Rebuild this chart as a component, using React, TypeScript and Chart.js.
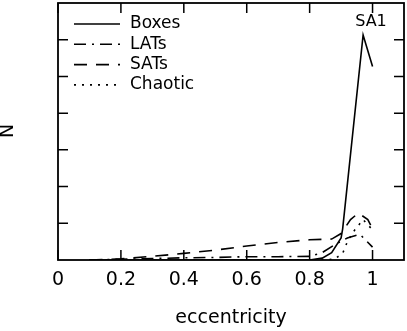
import React, { useEffect, useRef } from "react";
import { Chart, registerables } from "chart.js";

Chart.register(...registerables);

// ---- data ----
const boxesE = [0.1, 0.2, 0.3, 0.4, 0.5, 0.6, 0.7, 0.8, 0.84, 0.87, 0.9, 0.905, 0.97, 1.0];
const boxesN = [0, 0, 0, 0, 0, 0, 0, 0, 0.05, 0.2, 0.6, 0.85, 6.13, 5.27];

const latsE = [0.1, 0.2, 0.3, 0.4, 0.5, 0.6, 0.7, 0.8, 0.84, 0.88, 0.92, 0.96, 1.0];
const latsN = [0, 0.02, 0.04, 0.06, 0.07, 0.09, 0.09, 0.1, 0.2, 0.42, 0.6, 0.7, 0.35];

const satsE = [0.1, 0.2, 0.3, 0.4, 0.5, 0.6, 0.7, 0.8, 0.87, 0.9, 0.93, 0.955, 0.985, 1.0];
const satsN = [0, 0.03, 0.1, 0.18, 0.27, 0.38, 0.48, 0.55, 0.57, 0.72, 1.1, 1.28, 1.1, 0.85];

const chaoticE = [0.1, 0.3, 0.5, 0.7, 0.85, 0.88, 0.905, 0.92, 0.94, 0.97, 1.0];
const chaoticN = [0, 0, 0, 0, 0, 0.03, 0.18, 0.5, 0.78, 1.1, 0.82];

const xTickValues = [0, 0.2, 0.4, 0.6, 0.8, 1.0];
const xTickLabels = ["0", "0.2", "0.4", "0.6", "0.8", "1"];
const yTickValues = [1, 2, 3, 4, 5, 6];

const seriesLabels = ["Boxes", "LATs", "SATs", "Chaotic"];
const annotationText = "SA1";
const xTitle = "eccentricity";
const yTitle = "N";

const FONT = "'DejaVu Sans', sans-serif";

function pts(xs: number[], ys: number[]) {
  return xs.map((x, i) => ({ x, y: ys[i] }));
}

const framePlugin = {
  id: "framePlugin",
  afterDraw(chart: any) {
    const { ctx, chartArea } = chart;
    const xs = chart.scales.x;
    const ys = chart.scales.y;
    const { left, right, top, bottom } = chartArea;
    ctx.save();
    ctx.strokeStyle = "#000";
    ctx.lineWidth = 1.8;
    ctx.setLineDash([]);
    ctx.strokeRect(left, top, right - left, bottom - top);
    const tl = 10;
    ctx.lineWidth = 1.5;
    ctx.beginPath();
    xTickValues.forEach((v) => {
      const px = xs.getPixelForValue(v);
      ctx.moveTo(px, bottom);
      ctx.lineTo(px, bottom - tl);
      ctx.moveTo(px, top);
      ctx.lineTo(px, top + tl);
    });
    yTickValues.forEach((v) => {
      const py = ys.getPixelForValue(v);
      ctx.moveTo(left, py);
      ctx.lineTo(left + tl, py);
      ctx.moveTo(right, py);
      ctx.lineTo(right - tl, py);
    });
    ctx.stroke();

    ctx.fillStyle = "#000";
    ctx.font = `19px ${FONT}`;
    ctx.textAlign = "center";
    ctx.textBaseline = "middle";
    xTickValues.forEach((v, i) => {
      ctx.fillText(xTickLabels[i], xs.getPixelForValue(v), 280);
    });
    ctx.fillText(xTitle, (left + right) / 2, 318);
    ctx.save();
    ctx.translate(8, 131);
    ctx.rotate(-Math.PI / 2);
    ctx.fillText(yTitle, 0, 0);
    ctx.restore();

    // annotation at the Boxes peak
    ctx.font = `16px ${FONT}`;
    ctx.fillText(annotationText, 371, 22);

    // legend
    ctx.font = `17px ${FONT}`;
    ctx.textAlign = "left";
    chart.data.datasets.forEach((ds: any, i: number) => {
      const y = 24 + i * 20.3;
      ctx.beginPath();
      ctx.setLineDash(ds.borderDash || []);
      ctx.lineWidth = 1.6;
      ctx.moveTo(74, y);
      ctx.lineTo(120, y);
      ctx.stroke();
      ctx.setLineDash([]);
      ctx.fillText(ds.label, 130, y);
    });
    ctx.restore();
  },
};

export default function App() {
  const ref = useRef<HTMLCanvasElement | null>(null);
  useEffect(() => {
    if (!ref.current) return;
    const common = {
      borderColor: "#000",
      borderWidth: 1.6,
      pointRadius: 0,
      showLine: true,
      fill: false,
      tension: 0,
    };
    const chart = new Chart(ref.current, {
      type: "scatter",
      data: {
        datasets: [
          { ...common, label: seriesLabels[0], data: pts(boxesE, boxesN), borderDash: [] },
          { ...common, label: seriesLabels[1], data: pts(latsE, latsN), borderDash: [12, 6, 2, 6] },
          { ...common, label: seriesLabels[2], data: pts(satsE, satsN), borderDash: [13, 9] },
          { ...common, label: seriesLabels[3], data: pts(chaoticE, chaoticN), borderDash: [2, 6] },
        ],
      },
      options: {
        animation: false,
        responsive: false,
        maintainAspectRatio: false,
        layout: { padding: { left: 58, right: 3, top: 3, bottom: 71 } },
        scales: {
          x: { type: "linear", min: 0, max: 1.1, display: false },
          y: { type: "linear", min: 0, max: 7, display: false },
        },
        plugins: { legend: { display: false }, tooltip: { enabled: false } },
      },
      plugins: [framePlugin],
    } as any);
    return () => chart.destroy();
  }, []);
  return (
    <div style={{ position: "fixed", left: 0, top: 0, width: 407, height: 331, background: "#fff" }}>
      <canvas ref={ref} width={407} height={331} style={{ display: "block" }} />
    </div>
  );
}
